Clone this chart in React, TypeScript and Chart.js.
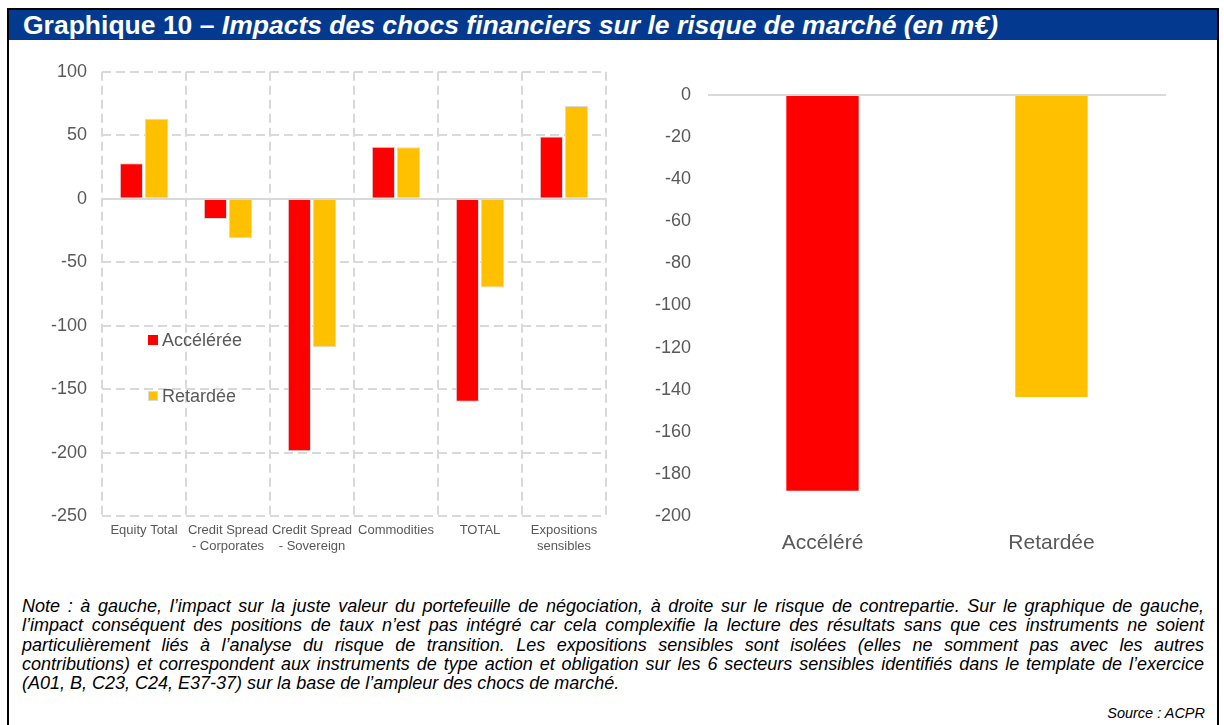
import React, { useEffect, useRef } from 'react';
import { Chart, registerables } from 'chart.js';

Chart.register(...registerables);

const FONT = '"Liberation Sans", Arial, sans-serif';

const TITLE_BOLD = 'Graphique 10 – ';
const TITLE_ITALIC = 'Impacts des chocs financiers sur le risque de marché (en m€)';

const leftCategories: string[][] = [
  ['Equity Total'],
  ['Credit Spread', '- Corporates'],
  ['Credit Spread', '- Sovereign'],
  ['Commodities'],
  ['TOTAL'],
  ['Expositions', 'sensibles'],
];
const leftSeriesNames = ['Accélérée', 'Retardée'];
const leftAcceleree = [28, -16, -199, 41, -160, 49];
const leftRetardee = [63, -31, -117, 40.5, -70, 73];
const leftMin = -250;
const leftMax = 100;
const leftStep = 50;

const rightCategories = ['Accéléré', 'Retardée'];
const rightValues = [-188, -143.5];
const rightMin = -200;
const rightMax = 0;
const rightStep = 20;

const RED = '#ff0000';
const YELLOW = '#ffc000';
const GRID = '#d9d9d9';
const TICK = '#595959';

const noteLines = [
  'Note : à gauche, l’impact sur la juste valeur du portefeuille de négociation, à droite sur le risque de contrepartie. Sur le graphique de gauche,',
  'l’impact conséquent des positions de taux n’est pas intégré car cela complexifie la lecture des résultats sans que ces instruments ne soient',
  'particulièrement liés à l’analyse du risque de transition. Les expositions sensibles sont isolées (elles ne somment pas avec les autres',
  'contributions) et correspondent aux instruments de type action et obligation sur les 6 secteurs sensibles identifiés dans le template de l’exercice',
  '(A01, B, C23, C24, E37-37) sur la base de l’ampleur des chocs de marché.',
];
const sourceText = 'Source : ACPR';

function LeftChart() {
  const ref = useRef<HTMLCanvasElement>(null);
  useEffect(() => {
    if (!ref.current) return;
    const chart = new Chart(ref.current, {
      type: 'bar',
      data: {
        labels: leftCategories,
        datasets: [
          {
            label: leftSeriesNames[0],
            data: leftAcceleree,
            backgroundColor: RED,
            borderColor: GRID,
            borderWidth: 1,
          },
          {
            label: leftSeriesNames[1],
            data: leftRetardee,
            backgroundColor: YELLOW,
            borderColor: GRID,
            borderWidth: 1,
          },
        ],
      },
      options: {
        animation: false,
        responsive: false,
        maintainAspectRatio: false,
        layout: { padding: { top: 7, right: 14, left: 0, bottom: 0 } },
        plugins: { legend: { display: false }, tooltip: { enabled: false } },
        datasets: { bar: { categoryPercentage: 0.6, barPercentage: 0.92 } },
        scales: {
          x: {
            grid: { color: GRID, lineWidth: 2, drawTicks: false, offset: true },
            border: { display: false, dash: [9, 5] },
            ticks: {
              color: TICK,
              font: { family: FONT, size: 13 },
              padding: 7,
              maxRotation: 0,
              minRotation: 0,
              autoSkip: false,
            },
            afterFit: (s: any) => {
              s.height = 44;
            },
          },
          y: {
            min: leftMin,
            max: leftMax,
            grid: { color: GRID, lineWidth: 2, drawTicks: false },
            border: {
              display: false,
              dash: (ctx: any) => (ctx.tick && ctx.tick.value === 0 ? [] : [9, 5]),
            },
            ticks: {
              stepSize: leftStep,
              color: TICK,
              font: { family: FONT, size: 18 },
              padding: 15,
            },
            afterFit: (s: any) => {
              s.width = 82;
            },
          },
        },
      },
    });
    return () => chart.destroy();
  }, []);
  return (
    <canvas
      ref={ref}
      width={600}
      height={514}
      style={{ position: 'absolute', left: 20, top: 46, width: 600, height: 514 }}
    />
  );
}

function RightChart() {
  const ref = useRef<HTMLCanvasElement>(null);
  useEffect(() => {
    if (!ref.current) return;
    const chart = new Chart(ref.current, {
      type: 'bar',
      data: {
        labels: rightCategories,
        datasets: [
          {
            label: 'Risque de contrepartie',
            data: rightValues,
            backgroundColor: [RED, YELLOW],
            borderWidth: 0,
          },
        ],
      },
      options: {
        animation: false,
        responsive: false,
        maintainAspectRatio: false,
        layout: { padding: { top: 40, right: 54, left: 0, bottom: 0 } },
        plugins: { legend: { display: false }, tooltip: { enabled: false } },
        datasets: { bar: { categoryPercentage: 1, barPercentage: 0.316 } },
        scales: {
          x: {
            grid: { display: false },
            border: { display: false },
            ticks: {
              color: TICK,
              font: { family: FONT, size: 21 },
              padding: 7,
              maxRotation: 0,
              autoSkip: false,
            },
            afterFit: (s: any) => {
              s.height = 44;
            },
          },
          y: {
            min: rightMin,
            max: rightMax,
            grid: {
              color: (ctx: any) => (ctx.tick && ctx.tick.value === 0 ? GRID : 'rgba(0,0,0,0)'),
              lineWidth: 2,
              drawTicks: false,
            },
            border: { display: false },
            ticks: {
              stepSize: rightStep,
              color: TICK,
              font: { family: FONT, size: 18 },
              padding: 17,
            },
            afterFit: (s: any) => {
              s.width = 88;
            },
          },
        },
      },
    });
    return () => chart.destroy();
  }, []);
  return (
    <canvas
      ref={ref}
      width={600}
      height={505}
      style={{ position: 'absolute', left: 620, top: 55, width: 600, height: 505 }}
    />
  );
}

export default function App() {
  const legendText: React.CSSProperties = {
    position: 'absolute',
    left: 162,
    fontFamily: FONT,
    fontSize: 18,
    color: TICK,
    lineHeight: '20px',
    whiteSpace: 'nowrap',
  };
  return (
    <div style={{ position: 'absolute', left: 0, top: 0, width: 1224, height: 725, overflow: 'hidden', background: '#fff' }}>
      <div
        style={{
          position: 'absolute',
          left: 7,
          top: 8,
          width: 1208,
          height: 717,
          borderLeft: '2px solid #000',
          borderRight: '2px solid #000',
          borderTop: '2px solid #000',
        }}
      />
      <div
        style={{
          position: 'absolute',
          left: 9,
          top: 10,
          width: 1208,
          height: 30,
          background: '#033a8f',
          color: '#fff',
          fontFamily: FONT,
          fontWeight: 'bold',
          fontSize: 26.5,
          lineHeight: '31px',
          paddingLeft: 14,
          boxSizing: 'border-box',
          whiteSpace: 'nowrap',
        }}
      >
        {TITLE_BOLD}
        <i>{TITLE_ITALIC}</i>
      </div>
      <LeftChart />
      <RightChart />
      <div style={{ position: 'absolute', left: 148, top: 335, width: 10, height: 10, background: RED }} />
      <div style={{ ...legendText, top: 330 }}>{leftSeriesNames[0]}</div>
      <div
        style={{
          position: 'absolute',
          left: 148,
          top: 391,
          width: 10,
          height: 10,
          background: YELLOW,
          border: `1px solid ${GRID}`,
          boxSizing: 'border-box',
        }}
      />
      <div style={{ ...legendText, top: 386 }}>{leftSeriesNames[1]}</div>
      <div
        style={{
          position: 'absolute',
          left: 22,
          top: 597,
          width: 1182,
          fontFamily: FONT,
          fontStyle: 'italic',
          fontSize: 18,
          lineHeight: '19.3px',
          color: '#000',
        }}
      >
        {noteLines.map((l, i) => (
          <div
            key={i}
            style={{
              textAlign: i < noteLines.length - 1 ? 'justify' : 'left',
              textAlignLast: i < noteLines.length - 1 ? 'justify' : 'left',
              whiteSpace: 'nowrap',
            }}
          >
            {l}
          </div>
        ))}
      </div>
      <div
        style={{
          position: 'absolute',
          left: 22,
          top: 704,
          width: 1183,
          textAlign: 'right',
          fontFamily: FONT,
          fontStyle: 'italic',
          fontSize: 14.5,
          lineHeight: '19px',
          color: '#000',
        }}
      >
        {sourceText}
      </div>
    </div>
  );
}
